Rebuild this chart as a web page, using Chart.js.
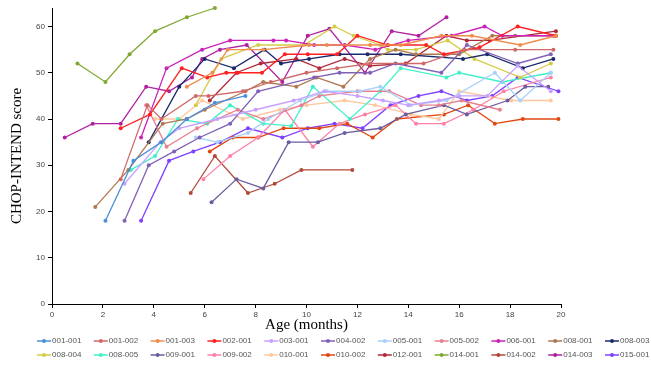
<!DOCTYPE html>
<html>
<head>
<meta charset="utf-8">
<script src="https://cdn.jsdelivr.net/npm/chart.js@4.4.1/dist/chart.umd.min.js"></script>
<style>
  html, body { margin: 0; padding: 0; background: #fff; }
  #wrap { width: 651px; height: 365px; }
</style>
</head>
<body>
<div id="wrap"><canvas id="myChart" width="651" height="365"></canvas></div>
<script>
// Tick labels
const ageTicks = [0, 2, 4, 6, 8, 10, 12, 14, 16, 18, 20];
const scoreTicks = [0, 10, 20, 30, 40, 50, 60];

// Patients
const patients = ['001-001', '001-002', '001-003', '002-001', '003-001', '004-002', '005-001', '005-002', '006-001', '008-001', '008-003',
                  '008-004', '008-005', '009-001', '009-002', '010-001', '010-002', '012-001', '014-001', '014-002', '014-003', '015-001'];

// Age (months) of each visit, one list per patient
const ages = [
  [2.1, 3.2, 4.3, 5.3, 6.4, 7.6],
  [2.7, 3.75, 4.3, 5.65, 6.15, 7.5, 8.6, 10.0, 11.2, 12.5, 14.6, 16.2, 18.2, 19.7],
  [5.3, 6.3, 6.9, 8.3, 10.1, 10.8, 12.5, 13.7, 15.3, 16.5, 18.4, 19.8],
  [2.7, 3.85, 5.1, 6.1, 6.85, 7.3, 8.25, 9.15, 10.05, 11.2, 12.0, 13.2, 14.7, 15.4, 16.8, 18.3, 19.8],
  [2.85, 4.25, 5.0, 6.5, 8.0, 9.5, 10.7, 12.0, 13.0, 14.0, 15.2, 16.0, 17.1, 18.3, 19.6],
  [2.85, 3.8, 4.8, 5.8, 7.0, 8.1, 10.3, 11.3, 12.5, 13.5, 15.3, 16.3, 18.3, 19.6],
  [5.65, 6.5, 7.7, 8.5, 9.75, 10.8, 12.1, 12.9, 14.1, 15.5, 17.4, 18.4, 19.6],
  [3.7, 4.5, 5.7, 7.3, 8.3, 9.8, 10.5, 12.0, 13.25, 14.5, 15.2, 16.1, 17.6],
  [3.5, 4.5, 5.9, 7.0, 8.7, 9.2, 10.3, 11.5, 12.7, 14.0, 15.7, 17.0, 17.7, 19.7],
  [1.7, 3.0, 4.35, 5.3, 6.0, 7.6, 8.3, 9.6, 10.4, 11.45, 12.5, 13.5, 14.3, 16.0, 17.3, 18.2, 19.8],
  [3.8, 5.0, 6.0, 7.15, 8.35, 9.0, 10.1, 11.3, 12.4, 13.7, 16.15, 17.1, 18.5, 19.7],
  [5.65, 6.65, 8.1, 9.9, 11.1, 11.85, 12.9, 13.2, 14.3, 15.55, 16.6, 18.4, 19.6],
  [3.1, 4.05, 4.95, 6.1, 7.0, 8.3, 9.4, 10.25, 11.7, 12.9, 13.7, 15.5, 16.0, 17.7, 19.6],
  [6.27, 7.25, 8.3, 9.3, 10.45, 11.5, 12.9, 13.9, 15.4, 16.3, 17.9, 18.6, 19.5],
  [5.95, 7.0, 8.1, 9.15, 10.25, 11.3, 12.3, 13.5, 14.3, 15.4, 16.55, 17.75, 19.6],
  [4.05, 5.0, 5.9, 7.5, 8.95, 10.0, 11.5, 12.7, 14.1, 15.2, 16.0, 18.05, 19.6],
  [6.2, 7.1, 8.1, 9.1, 10.5, 11.6, 12.6, 13.55, 15.4, 16.35, 17.4, 18.5, 19.9],
  [6.2, 7.25, 8.2, 9.6, 10.5, 11.5, 12.5, 13.9, 15.5, 16.3, 17.2, 19.8],
  [1.0, 2.1, 3.05, 4.05, 5.3, 6.4],
  [5.45, 6.4, 7.7, 8.75, 9.8, 11.8],
  [0.5, 1.6, 2.7, 3.7, 4.6, 5.5, 5.9, 6.6, 7.65, 9.05, 10.05, 10.9, 12.3, 13.35, 14.4, 15.5],
  [3.5, 4.6, 5.55, 6.6, 7.7, 9.05, 10.05, 11.1, 12.2, 13.3, 14.4, 15.3, 16.3, 17.3, 18.3, 19.9]
];

// CHOP-INTEND score at each visit
const scores = [
  [18, 31, 35, 40, 43.5, 45],
  [27, 43, 40, 45, 45, 46, 48, 50, 51, 52, 52, 55, 55, 55],
  [47, 50, 55, 55, 56, 56, 56, 56, 58, 58, 56, 58],
  [38, 41, 51, 49, 50, 50, 50, 54, 54, 54, 58, 56, 56, 54, 55.5, 60, 58],
  [26, 35, 38, 40, 42, 44, 46, 45, 44, 43, 44, 45, 45, 51.5, 46],
  [18, 30, 33, 36, 39, 46, 49, 50, 50, 52, 50, 56, 52, 54],
  [36, 35, 37, 40, 44, 46, 46, 47, 43, 44, 50, 44, 50],
  [43, 34, 38, 42, 40, 43, 45, 46, 46, 43, 43, 44, 42],
  [36, 51, 55, 57, 57, 57, 56, 56, 55, 57, 58, 60, 58, 58],
  [21, 29, 39, 40, 42, 46, 48, 47, 49, 47, 53, 55, 54, 54, 58, 58, 58],
  [35, 47, 53, 51, 55, 52, 53, 54, 54, 54, 53, 54, 51, 53],
  [43, 53, 56, 56, 60, 58, 56, 55, 55, 57, 53, 49, 52],
  [29, 32, 40, 39, 43, 39, 38.5, 47, 40, 46, 51, 49, 50, 48, 50],
  [22, 27, 25, 35, 35, 37, 38, 41, 43, 41, 44, 47, 47],
  [27, 32, 36, 42, 34, 39, 41, 43, 39, 39, 42, 46, 49],
  [40, 40, 44, 40, 42, 43, 44, 43, 41, 40, 46, 44, 44],
  [33, 36, 36, 38, 38, 39, 36, 40, 41, 43, 39, 40, 40],
  [44, 50, 52, 53, 51, 53, 51.5, 52, 58, 57, 57, 59],
  [52, 48, 54, 59, 62, 64],
  [24, 32, 24, 26, 29, 29],
  [36, 39, 39, 47, 46, 49, 53, 55, 56, 48, 58, 59.5, 50, 59, 58, 62],
  [18, 31, 33, 35, 38, 36, 38, 39, 38, 43, 45, 46, 44, 45, 49, 46]
];

const colors = ['#4a8fd8', '#d06868', '#f08c4c', '#ff2020', '#c8a0ff', '#8060b8', '#a8d0f8', '#e88090', '#cc22b8', '#b07850', '#1a2a6a',
                '#d4cc48', '#40f0c8', '#6c5ca0', '#ff80a8', '#ffc8a0', '#e04810', '#b02838', '#80a830', '#b04838', '#b020a0', '#8040ff'];

// Leyenda dibujada a mano: 2 filas de 11
const legendPlugin = {
  id: 'lineLegend',
  afterDraw(chart) {
    const ctx = chart.ctx;
    ctx.save();
    ctx.font = '8px "Liberation Sans", Arial, sans-serif';
    ctx.textBaseline = 'middle';
    chart.data.datasets.forEach((ds, i) => {
      const x0 = 37 + (i % 11) * 56.8;
      const y = 341 + Math.floor(i / 11) * 14;
      ctx.strokeStyle = ds.borderColor;
      ctx.lineWidth = 1.5;
      ctx.beginPath();
      ctx.moveTo(x0, y);
      ctx.lineTo(x0 + 14, y);
      ctx.stroke();
      ctx.fillStyle = ds.borderColor;
      ctx.beginPath();
      ctx.arc(x0 + 7, y, 2, 0, Math.PI * 2);
      ctx.fill();
      ctx.fillStyle = '#555';
      ctx.fillText(ds.label, x0 + 15, y);
    });
    ctx.restore();
  }
};

const datasets = patients.map((p, i) => ({
  label: p,
  data: ages[i].map((a, j) => ({ x: a, y: scores[i][j] })),
  borderColor: colors[i],
  backgroundColor: colors[i],
  borderWidth: 1.3,
  pointRadius: 2,
  pointBorderWidth: 0,
  pointHoverRadius: 2,
  tension: 0,
  clip: false
}));

const ctx = document.getElementById('myChart').getContext('2d');
new Chart(ctx, {
  type: 'line',
  data: { datasets: datasets },
  options: {
    responsive: false,
    animation: false,
    events: [],
    layout: { padding: { left: 0, top: 8, right: 90, bottom: 31 } },
    plugins: {
      legend: { display: false },
      tooltip: { enabled: false }
    },
    scales: {
      x: {
        type: 'linear',
        min: 0,
        max: 20,
        afterBuildTicks: scale => { scale.ticks = ageTicks.map(v => ({ value: v })); },
        afterFit: scale => { scale.height = 30; },
        grid: { display: true, drawOnChartArea: false, drawTicks: true, tickLength: 4, color: '#000' },
        border: { display: true, color: '#000', width: 1 },
        ticks: { maxRotation: 0, padding: 2, color: '#444', font: { family: '"Liberation Sans", Arial, sans-serif', size: 8 } },
        title: {
          display: true,
          text: 'Age (months)',
          color: '#000',
          padding: { top: 0, bottom: 0 },
          font: { family: '"Liberation Serif", "Times New Roman", serif', size: 15 }
        }
      },
      y: {
        type: 'linear',
        min: 0,
        max: 64,
        afterBuildTicks: scale => { scale.ticks = scoreTicks.map(v => ({ value: v })); },
        afterFit: scale => { scale.width = 52; },
        grid: { display: true, drawOnChartArea: false, drawTicks: true, tickLength: 4, color: '#000' },
        border: { display: true, color: '#000', width: 1 },
        ticks: { padding: 3, color: '#444', font: { family: '"Liberation Sans", Arial, sans-serif', size: 8 } },
        title: {
          display: true,
          text: 'CHOP-INTEND score',
          color: '#000',
          padding: { top: 8, bottom: 0 },
          font: { family: '"Liberation Serif", "Times New Roman", serif', size: 15 }
        }
      }
    }
  },
  plugins: [legendPlugin]
});
</script>
</body>
</html>
